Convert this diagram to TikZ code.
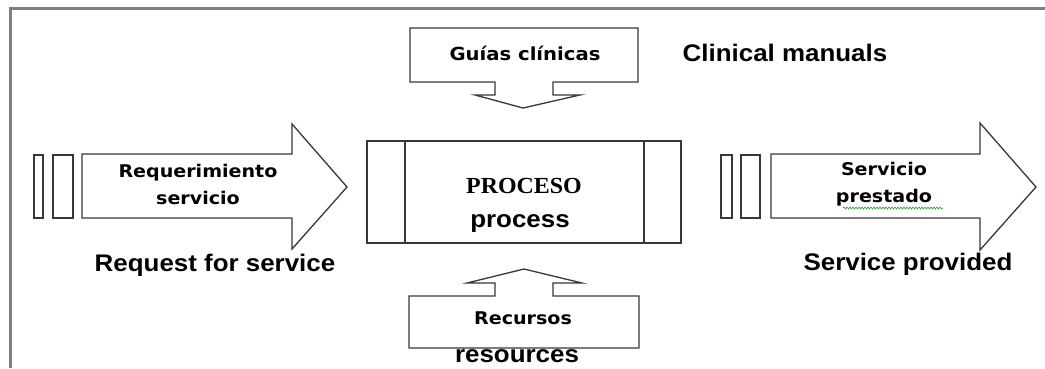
\documentclass[tikz,border=0pt]{standalone}
\usepackage{fontspec}
\usepackage{graphicx}
\setmainfont{Liberation Sans}
\newfontfamily\esfont{DejaVu Sans}
\newfontfamily\procfont{Liberation Serif}
\usetikzlibrary{decorations.pathmorphing}
% Spanish labels: wide bold face
\newcommand\esx[1]{\scalebox{1.09}[1]{#1}}
% English labels: Arial-like bold, slightly widened
\newcommand\enx[1]{\scalebox{1.08}[1]{#1}}
\begin{document}
\begin{tikzpicture}[x=1pt,y=-1pt,
  outline/.style={draw=black!78,line width=1.3pt,line join=miter,fill=white},
  frameline/.style={draw=black!50,line width=3pt},
  eslabel/.style={font=\esfont\bfseries\fontsize{17.5}{27}\selectfont,align=center,inner sep=0pt},
  enlabel/.style={font=\bfseries\fontsize{24}{28}\selectfont,inner sep=0pt,anchor=base},
  proclabel/.style={font=\procfont\bfseries\fontsize{23}{24}\selectfont,inner sep=0pt}]
\useasboundingbox (0,0) rectangle (1045,368);
\fill[white] (0,0) rectangle (1045,368);

% outer frame (top and left edges)
\draw[frameline] (10,368) -- (10,8) -- (1045,8);

% input arrow with its two leading bars
\draw[outline] (34,155) rectangle (43,218);
\draw[outline] (53,155) rectangle (73,218);
\draw[outline] (82,154) -- (292,154) -- (292,124) -- (347,187) -- (292,249) -- (292,218) -- (82,218) -- cycle;
\node[eslabel] (req) at (198,184) {\esx{Requerimiento}\\\esx{servicio}};
\node[enlabel] (reqen) at (215,271) {\enx{Request for service}};

% output arrow with its two leading bars
\draw[outline] (721,155) rectangle (732,218);
\draw[outline] (741,155) rectangle (760,218);
\draw[outline] (771,154) -- (980,154) -- (980,123) -- (1036,187) -- (980,250) -- (980,218) -- (771,218) -- cycle;
\node[eslabel] (srv) at (884,184) {\esx{Servicio}\\\esx{prestado}};
\draw[green!60!black,line width=0.5pt,decorate,decoration={snake,amplitude=1pt,segment length=3pt}]
  (843,208) -- (943,208);
\node[enlabel] (srven) at (908,270) {\enx{Service provided}};

% process block with side bands
\draw[outline] (367,141) rectangle (681,243);
\draw[outline] (405,141) -- (405,243);
\draw[outline] (644,141) -- (644,243);
\node[proclabel] (proc) at (524,186) {\scalebox{1.04}[1]{PROCESO}};
\node[enlabel] (procen) at (520,227) {\enx{process}};

% clinical guides: callout pointing down
\draw[outline] (410,28) -- (638,28) -- (638,82) -- (553,82) -- (553,95) -- (580,95)
  -- (523,108) -- (475,95) -- (495,95) -- (495,82) -- (410,82) -- cycle;
\node[eslabel,font=\esfont\bfseries\fontsize{18}{20}\selectfont] (guias) at (525,53) {\esx{Guías clínicas}};
\node[enlabel] (guiasen) at (785,61) {\enx{Clinical manuals}};

% resources: callout pointing up
\draw[outline] (409,296) -- (495,296) -- (495,283) -- (467,283) -- (524,269) -- (582,283)
  -- (553,283) -- (553,296) -- (639,296) -- (639,348) -- (409,348) -- cycle;
\node[eslabel] (rec) at (523,318) {\esx{Recursos}};
\node[enlabel] (recen) at (517,362) {\enx{resources}};
\end{tikzpicture}
\end{document}
